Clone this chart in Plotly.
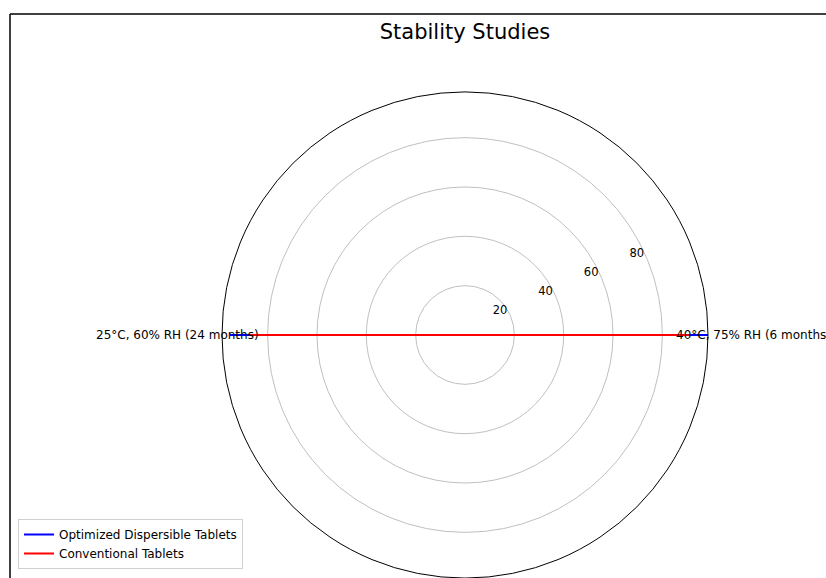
import plotly.graph_objects as go

# Data
conditions = ["40°C, 75% RH (6 months)", "25°C, 60% RH (24 months)"]
angles_deg = [0, 180]
optimized = [98.5, 95.3]
conventional = [90.7, 87.3]
series_names = ["Optimized Dispersible Tablets", "Conventional Tablets"]
series_colors = ["blue", "red"]
radial_ticks = [20, 40, 60, 80]

W, H = 826, 578
cx, cy, R = 465, 335, 243  # polar centre and radius in px

fig = go.Figure()
for name, vals, col in zip(series_names, [optimized, conventional], series_colors):
    fig.add_trace(go.Scatterpolar(
        r=vals + vals[:1],
        theta=angles_deg + angles_deg[:1],
        mode="lines",
        name=name,
        line=dict(color=col, width=2),
    ))

rmax = max(optimized + conventional)

fig.update_layout(
    width=W, height=H,
    margin=dict(l=0, r=0, t=0, b=0),
    paper_bgcolor="white",
    font=dict(family="DejaVu Sans", color="black"),
    title=dict(text="Stability Studies", x=cx / W, xanchor="center",
               y=1 - 32 / H, yanchor="middle", font=dict(size=21)),
    polar=dict(
        domain=dict(x=[(cx - R) / W, (cx + R) / W], y=[(H - cy - R) / H, (H - cy + R) / H]),
        bgcolor="white",
        radialaxis=dict(range=[0, rmax], tickvals=radial_ticks,
                        angle=22.5, tickangle=22.5, side="counterclockwise",
                        showline=False, ticks="",
                        gridcolor="#c0c0c0", gridwidth=0.8,
                        tickfont=dict(size=11.5)),
        angularaxis=dict(direction="counterclockwise", rotation=0,
                         showticklabels=False, ticks="", showgrid=False,
                         showline=True, linecolor="black", linewidth=1),
    ),
    legend=dict(x=18 / W, y=(H - 569) / H, xanchor="left", yanchor="bottom",
                bordercolor="#d0d0d0", borderwidth=1, bgcolor="white",
                font=dict(size=12), itemwidth=30, tracegroupgap=0),
    showlegend=True,
)

# Category labels at their angles, just outside the circle
label_offset = 288
for lab, ang in zip(conditions, angles_deg):
    xpx = cx + (label_offset if ang == 0 else -label_offset)
    fig.add_annotation(text=lab, x=xpx / W, y=(H - cy) / H, xref="paper", yref="paper",
                       xanchor="center", yanchor="middle", showarrow=False,
                       font=dict(size=12))

# figure frame (left and top edges)
fig.add_shape(type="line", xref="paper", yref="paper", x0=10 / W, x1=10 / W,
              y0=0, y1=1 - 14 / H, line=dict(color="black", width=1.5))
fig.add_shape(type="line", xref="paper", yref="paper", x0=10 / W, x1=1,
              y0=1 - 14 / H, y1=1 - 14 / H, line=dict(color="black", width=1.5))

fig.write_html("out.html", post_script="document.body.style.margin='0';",
               config={"displayModeBar": False})
